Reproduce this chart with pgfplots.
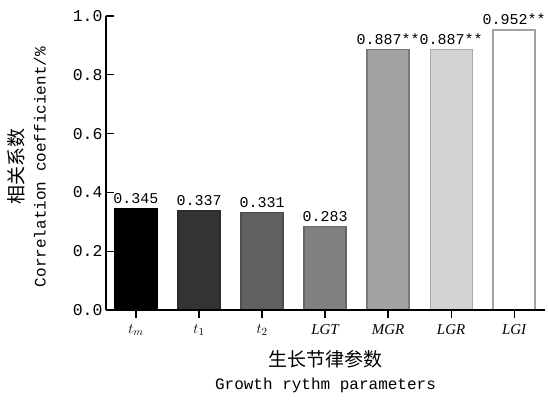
\documentclass[border=0pt]{standalone}
\usepackage{fontspec}
\usepackage{pgfplots}
\pgfplotsset{compat=1.18}
\setmainfont{Liberation Mono}
\newfontfamily\cjk{Noto Sans CJK SC}
\newfontfamily\tnr{Liberation Serif}
\definecolor{c1}{HTML}{333333}
\definecolor{c2}{HTML}{606060}
\definecolor{c3}{HTML}{808080}
\definecolor{c4}{HTML}{A2A2A2}
\definecolor{c5}{HTML}{D4D4D4}
\begin{document}
\begin{tikzpicture}[x=1pt,y=1pt]
\begin{axis}[
  at={(0,0)}, anchor=south west,
  scale only axis, width=439pt, height=294pt,
  xmin=-0.476, xmax=6.49, ymin=0, ymax=1,
  axis x line*=bottom, axis y line*=left,
  axis line style={line width=1.4pt, black},
  axis on top,
  clip=false,
  tick align=inside, major tick length=8pt,
  tick style={line width=1.2pt, black},
  ytick={0,0.2,0.4,0.6,0.8,1.0},
  xtick={0,1,2,3,4,5,6},
  xticklabels={$t_{m}$,$t_{1}$,$t_{2}$,{\tnr\itshape LGT},{\tnr\itshape MGR},{\tnr\itshape LGR},{\tnr\itshape LGI}},
  xticklabel style={font=\fontsize{15}{15}\selectfont, yshift=-3pt},
  yticklabel style={font=\fontsize{16.5}{16.5}\selectfont},
  /pgf/number format/.cd, fixed, fixed zerofill, precision=1, assume math mode=true,
  /pgfplots/.cd,
  ybar, bar width=42pt, bar shift=0pt,
  nodes near coords, point meta=explicit symbolic,
  every node near coord/.append style={font=\fontsize{15}{15}\selectfont, black, yshift=1pt},
]
\addplot[fill=black, draw=black, line width=1.2pt] coordinates {(0,0.345) [0.345]};
\addplot[fill=c1, draw=c1!85!black, line width=1.2pt] coordinates {(1,0.337) [0.337]};
\addplot[fill=c2, draw=c2!80!black, line width=1.2pt] coordinates {(2,0.331) [0.331]};
\addplot[fill=c3, draw=c3!80!black, line width=1.2pt] coordinates {(3,0.283) [0.283]};
\addplot[fill=c4, draw=c4!75!black, line width=1.2pt] coordinates {(4,0.887) [0.887**]};
\addplot[fill=c5, draw=c5!80!black, line width=1.2pt] coordinates {(5,0.887) [0.887**]};
\addplot[fill=white, draw=c4, line width=1.4pt] coordinates {(6,0.952) [0.952**]};
\end{axis}
\node at (219.5,-49) {\cjk\fontsize{19}{19}\selectfont 生长节律参数};
\node at (219.5,-75) {\fontsize{16}{16}\selectfont Growth rythm parameters};
\node[rotate=90] at (-90,143) {\cjk\fontsize{19}{19}\selectfont 相关系数};
\node[rotate=90] at (-66,143) {\fontsize{16}{16}\selectfont Correlation coefficient/\%};
\pgfresetboundingbox
\useasboundingbox (-106,-91) rectangle (442,310);
\end{tikzpicture}
\end{document}
